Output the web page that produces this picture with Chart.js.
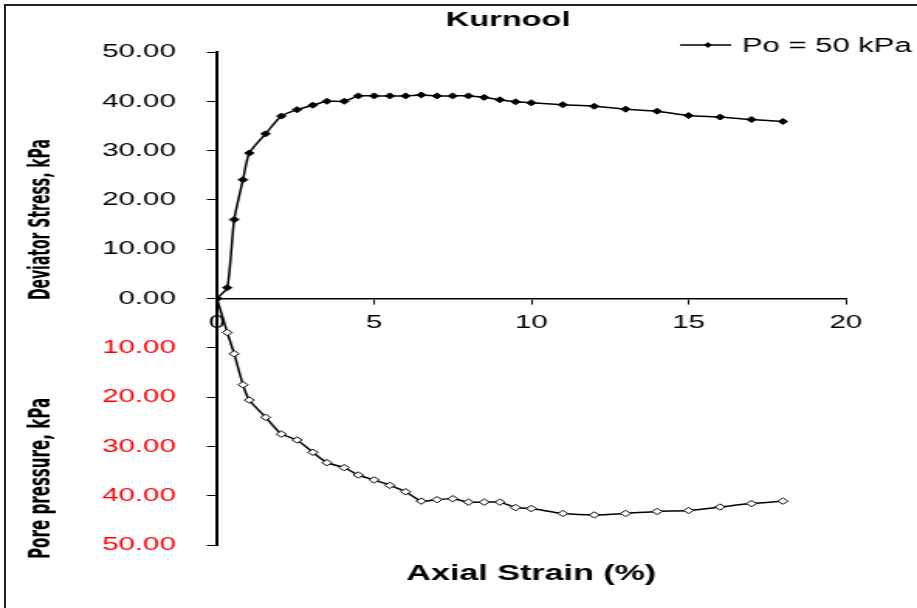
<!DOCTYPE html>
<html>
<head>
<meta charset="utf-8">
<script src="https://cdn.jsdelivr.net/npm/chart.js@4"></script>
<style>
  html, body { margin: 0; padding: 0; background: #fff; overflow: hidden; }
  /* the original Excel picture is stretched sideways, so draw narrow and stretch */
  #wrap { position: absolute; left: 0; top: 0; width: 592px; height: 608px; transform: scaleX(1.549); transform-origin: 0 0; }
  #frame { position: absolute; left: 4px; top: 4px; width: 1000px; height: 1000px; border: 2px solid #222; pointer-events: none; }
</style>
</head>
<body>
<div id="wrap"><canvas id="chart"></canvas></div>
<div id="frame"></div>
<script>
const chartTitle = "Kurnool";
const xTitle = "Axial Strain (%)";
const yTitleTop = "Deviator Stress, kPa";
const yTitleBottom = "Pore pressure, kPa";
const legendLabel = "Po = 50 kPa";

// axial strain (%)
const strain = [0, 0.33, 0.55, 0.83, 1.03, 1.55, 2.05, 2.55, 3.05, 3.5, 4.05, 4.5, 5, 5.5, 6, 6.5,
  7, 7.5, 8, 8.5, 9, 9.5, 10, 11, 12, 13, 14, 15, 16, 17, 18];
// deviator stress, kPa
const deviator = [0, 2.2, 16.0, 24.1, 29.5, 33.4, 37.0, 38.3, 39.2, 40.0, 40.0, 41.1, 41.1, 41.1, 41.1, 41.3,
  41.1, 41.1, 41.1, 40.8, 40.3, 39.9, 39.7, 39.3, 39.0, 38.4, 38.0, 37.1, 36.8, 36.3, 35.9];
// pore pressure, kPa (plotted downwards)
const pore = [0, 6.9, 11.2, 17.5, 20.6, 24.1, 27.5, 28.7, 31.2, 33.3, 34.3, 35.8, 36.8, 37.9, 39.2, 41.1,
  40.8, 40.6, 41.3, 41.3, 41.3, 42.4, 42.6, 43.6, 43.9, 43.6, 43.2, 43.0, 42.3, 41.6, 41.1];

const black = "#000000";
const red = "#ff0000";
const fontName = "'Liberation Sans', Arial, sans-serif";

// titles + legend drawn like the Excel chart
const extraText = {
  id: "extraText",
  afterDraw(chart) {
    const c = chart.ctx;
    const ys = chart.scales.y;
    const xs = chart.scales.x;
    c.save();
    c.fillStyle = black;
    c.textAlign = "center";
    c.textBaseline = "middle";
    c.font = "bold 21px " + fontName;
    c.fillText(chartTitle, 328, 20);
    c.font = "bold 22px " + fontName;
    c.fillText(xTitle, (xs.left + xs.right) / 2, 574);

    const vert = (txt, x, y, len) => {
      c.save();
      c.translate(x, y);
      c.rotate(-Math.PI / 2);
      c.font = "bold 20px 'Liberation Sans Narrow', 'DejaVu Sans Condensed', " + fontName;
      const w = c.measureText(txt).width;
      c.scale(len / w, 1);
      c.textAlign = "center";
      c.textBaseline = "alphabetic";
      c.fillText(txt, 0, 0);
      c.restore();
    };
    vert(yTitleTop, 32, ys.getPixelForValue(16), 161);
    vert(yTitleBottom, 32, ys.getPixelForValue(-36.5), 161);

    // legend
    c.strokeStyle = black;
    c.lineWidth = 1.3;
    c.beginPath();
    c.moveTo(439, 45);
    c.lineTo(472, 45);
    c.stroke();
    c.beginPath();
    c.moveTo(457, 42);
    c.lineTo(459.5, 45);
    c.lineTo(457, 48);
    c.lineTo(454.5, 45);
    c.closePath();
    c.fill();
    c.font = "20px " + fontName;
    c.textAlign = "left";
    c.fillText(legendLabel, 479, 46);
    c.restore();
  }
};

const ctx = document.getElementById("chart").getContext("2d");

let chartData = {
  datasets: [
    {
      label: legendLabel,
      data: strain.map((s, i) => ({ x: s, y: deviator[i] })),
      borderColor: black,
      backgroundColor: black,
      borderWidth: 1.5,
      pointStyle: "rectRot",
      pointRadius: 3,
      pointBorderWidth: 1,
      tension: 0.2,
    },
    {
      label: "pore",
      data: strain.map((s, i) => ({ x: s, y: -pore[i] })),
      borderColor: black,
      backgroundColor: "#ffffff",
      borderWidth: 1.5,
      pointStyle: "rectRot",
      pointRadius: 3.2,
      pointBorderWidth: 1,
      tension: 0.2,
    },
  ],
};

let chartOptions = {
  responsive: true,
  maintainAspectRatio: false,
  animation: false,
  layout: { padding: { top: 52, right: 46, bottom: 63, left: 0 } },
  plugins: {
    legend: { display: false },
    tooltip: { enabled: false },
  },
  scales: {
    x: {
      type: "linear",
      position: { y: 0 },
      min: 0,
      max: 20,
      ticks: { stepSize: 5, color: black, padding: 8, font: { family: fontName, size: 19 } },
      grid: { drawOnChartArea: false, tickLength: 5, tickColor: black, tickWidth: 1 },
      border: { color: black, width: 1.6 },
    },
    y: {
      type: "linear",
      min: -50,
      max: 50,
      afterFit: (scale) => { scale.width = 140; },
      ticks: {
        stepSize: 10,
        padding: 20,
        font: { family: fontName, size: 19 },
        color: (c) => (c.tick.value < 0 ? red : black),
        callback: (v) => Math.abs(v).toFixed(2),
      },
      grid: { drawOnChartArea: false, tickLength: 6.5, tickColor: black, tickWidth: 1 },
      border: { color: black, width: 2 },
    },
  },
};

const strainChart = new Chart(ctx, {
  type: "line",
  data: chartData,
  options: chartOptions,
  plugins: [extraText],
});
</script>
</body>
</html>
